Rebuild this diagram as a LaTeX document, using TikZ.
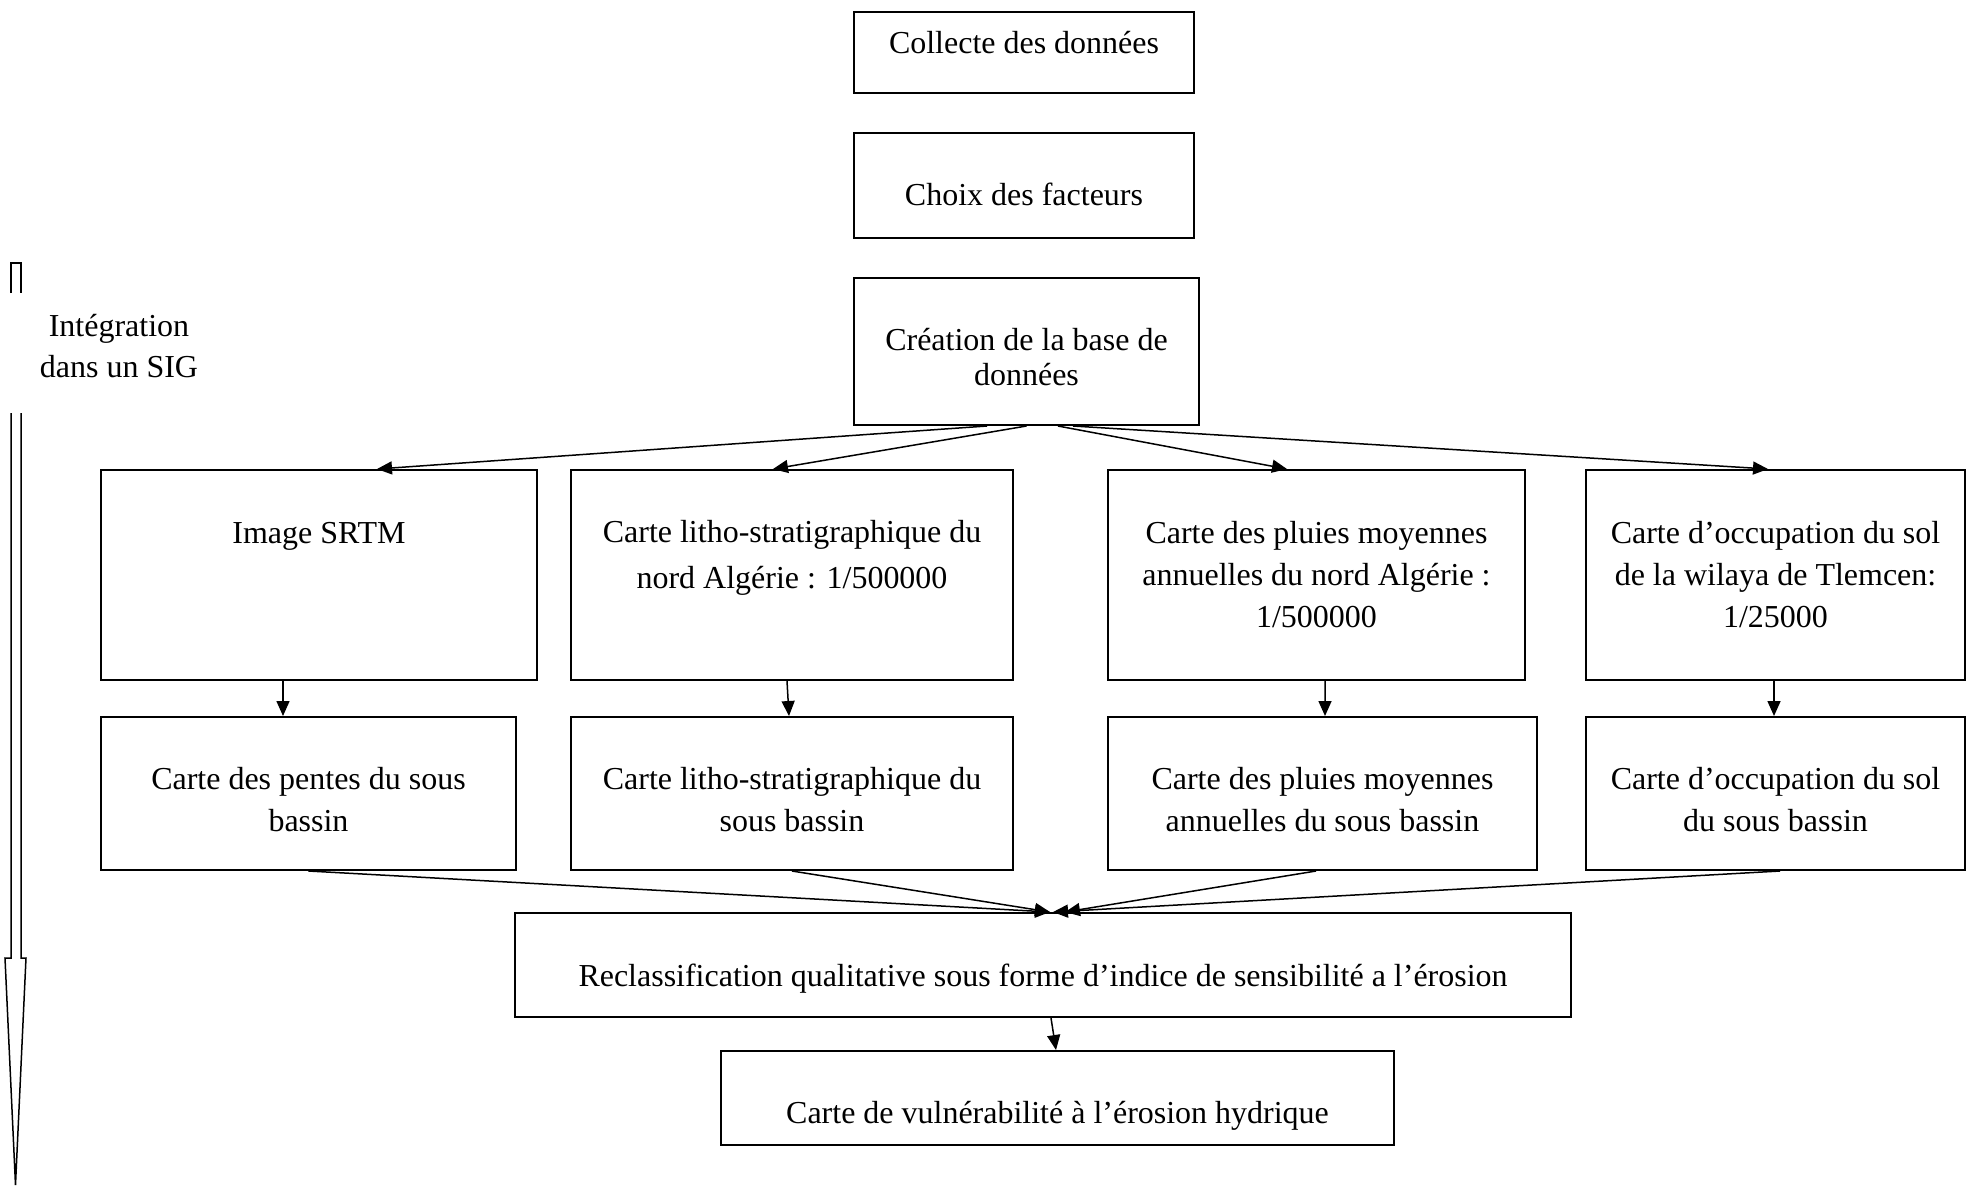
\documentclass[tikz,border=0pt]{standalone}
\usepackage{fontspec}
\setmainfont{Liberation Serif}
\usetikzlibrary{arrows.meta, positioning}

\begin{document}
\begin{tikzpicture}[
  box/.style={draw, line width=0.04cm, inner sep=0pt},
  txt/.style={align=center, font=\fontsize{18.2pt}{23.9pt}\selectfont},
  flow/.style={-{Triangle[width=0.26cm, length=0.3cm]}, line width=0.03cm},
]
  \useasboundingbox (0,0) rectangle (39.32,-23.8);
  \node[box, minimum width=6.8cm, minimum height=1.62cm,
        label={[txt, yshift=0.2cm]center:{Collecte des données}}] (collecte) at (20.48,-1.05) {};
  \node[box, minimum width=6.8cm, minimum height=2.1cm,
        label={[txt, yshift=-0.17cm]center:{Choix des facteurs}}] (choix) at (20.48,-3.71) {};
  \node[box, minimum width=6.9cm, minimum height=2.94cm,
        label={[txt, font=\fontsize{18.2pt}{19.9pt}\selectfont, yshift=-0.11cm]center:{Création de la base de\\données}}] (base) at (20.53,-7.03) {};
  \node[box, minimum width=8.72cm, minimum height=4.2cm,
        label={[txt, yshift=0.78cm]center:{Image SRTM}}] (srtm) at (6.38,-11.5) {};
  \node[box, minimum width=8.84cm, minimum height=4.2cm,
        label={[txt, font=\fontsize{18.2pt}{26.2pt}\selectfont, yshift=0.35cm]center:{Carte litho-stratigraphique du\\nord Algérie : 1/500000}}] (litho) at (15.84,-11.5) {};
  \node[box, minimum width=8.34cm, minimum height=4.2cm,
        label={[txt]center:{Carte des pluies moyennes\\annuelles du nord Algérie :\\1/500000}}] (pluie) at (26.33,-11.5) {};
  \node[box, minimum width=7.58cm, minimum height=4.2cm,
        label={[txt]center:{Carte d’occupation du sol\\de la wilaya de Tlemcen:\\1/25000}}] (occup) at (35.51,-11.5) {};
  \node[box, minimum width=8.3cm, minimum height=3.06cm,
        label={[txt, yshift=-0.13cm]center:{Carte des pentes du sous\\bassin}}] (pente) at (6.17,-15.87) {};
  \node[box, minimum width=8.84cm, minimum height=3.06cm,
        label={[txt, yshift=-0.13cm]center:{Carte litho-stratigraphique du\\sous bassin}}] (lithosb) at (15.84,-15.87) {};
  \node[box, minimum width=8.58cm, minimum height=3.06cm,
        label={[txt, yshift=-0.13cm]center:{Carte des pluies moyennes\\annuelles du sous bassin}}] (pluiesb) at (26.45,-15.87) {};
  \node[box, minimum width=7.58cm, minimum height=3.06cm,
        label={[txt, yshift=-0.13cm]center:{Carte d’occupation du sol\\du sous bassin}}] (occupsb) at (35.51,-15.87) {};
  \node[box, minimum width=21.12cm, minimum height=2.08cm,
        label={[txt, yshift=-0.28cm]center:{Reclassification qualitative sous forme d’indice de sensibilité a l’érosion}}] (reclass) at (20.86,-19.3) {};
  \node[box, minimum width=13.46cm, minimum height=1.88cm,
        label={[txt, yshift=-0.36cm]center:{Carte de vulnérabilité à l’érosion hydrique}}] (vulne) at (21.15,-21.96) {};
  \node[txt, font=\fontsize{18.2pt}{22.8pt}\selectfont] (sig) at (2.38,-6.92) {Intégration\\dans un SIG};
  \draw[line width=0.03cm] (0.22,-5.86) |- (0.42,-5.26) -- (0.42,-5.86);
  \draw[line width=0.03cm] (0.22,-8.26) -- (0.22,-19.16) -- (0.10,-19.16) -- (0.31,-23.7)
    -- (0.52,-19.16) -- (0.42,-19.16) -- (0.42,-8.26);
  \draw[flow] ([xshift=-0.79cm]base.south) -- ([xshift=1.16cm]srtm.north);
  \draw[flow] (base.south) -- ([xshift=-0.38cm]litho.north);
  \draw[flow] ([xshift=0.63cm]base.south) -- ([xshift=-0.59cm]pluie.north);
  \draw[flow] ([xshift=0.93cm]base.south) -- ([xshift=-0.15cm]occup.north);
  \draw[flow] ([xshift=-0.72cm]srtm.south) -- ([xshift=-0.51cm]pente.north);
  \draw[flow] ([xshift=-0.1cm]litho.south) -- ([xshift=-0.06cm]lithosb.north);
  \draw[flow] ([xshift=0.17cm]pluie.south) -- ([xshift=0.05cm]pluiesb.north);
  \draw[flow] ([xshift=-0.03cm]occup.south) -- ([xshift=-0.03cm]occupsb.north);
  \draw[flow] (pente.south) -- ([xshift=0.14cm]reclass.north);
  \draw[flow] (lithosb.south) -- ([xshift=0.14cm]reclass.north);
  \draw[flow] ([xshift=-0.13cm]pluiesb.south) -- ([xshift=0.44cm]reclass.north);
  \draw[flow] ([xshift=0.09cm]occupsb.south) -- ([xshift=0.2cm]reclass.north);
  \draw[flow] ([xshift=0.16cm]reclass.south) -- ([xshift=-0.03cm]vulne.north);
\end{tikzpicture}
\end{document}
